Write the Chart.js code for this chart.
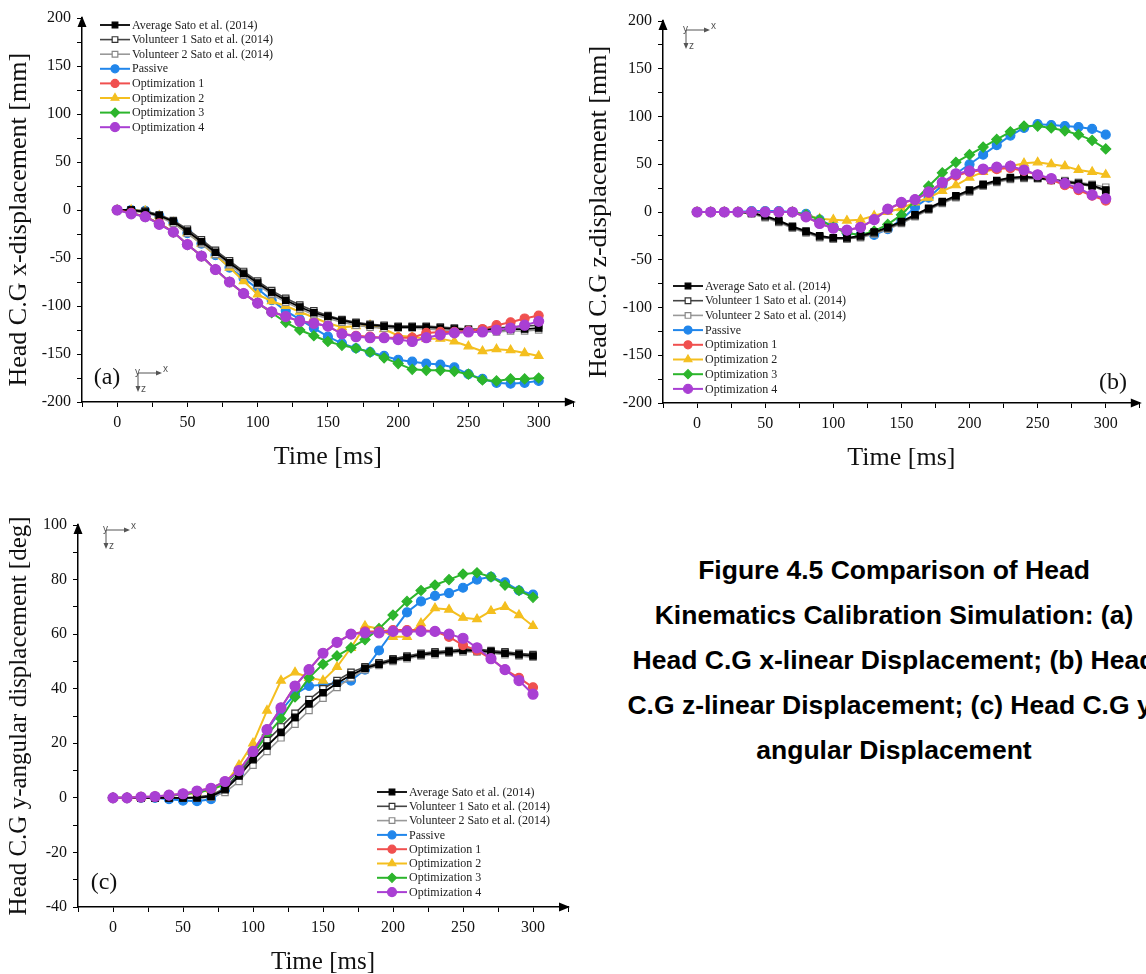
<!DOCTYPE html>
<html>
<head>
<meta charset="utf-8">
<script src="https://cdn.jsdelivr.net/npm/chart.js@4.4.0/dist/chart.umd.min.js"></script>
<style>
    html, body { margin: 0; padding: 0; background: #fff; width: 1146px; height: 974px; overflow: hidden; position: relative; }
    .panel { position: absolute; }
    #caption {
        position: absolute; left: 594px; top: 548px; width: 600px;
        text-align: center; white-space: nowrap; color: #000;
        font: bold 26.5px "Liberation Sans", Arial, sans-serif; line-height: 45px;
    }
</style>
</head>
<body>
<div class="panel" style="left:0;top:0"><canvas id="chartA" width="580" height="480"></canvas></div>
<div class="panel" style="left:580px;top:0"><canvas id="chartB" width="566" height="480"></canvas></div>
<div class="panel" style="left:0;top:500px"><canvas id="chartC" width="580" height="480"></canvas></div>

<div id="caption">
    Figure 4.5 Comparison of Head<br>
    Kinematics Calibration Simulation: (a)<br>
    Head C.G x-linear Displacement; (b) Head<br>
    C.G z-linear Displacement; (c) Head C.G y-<br>
    angular Displacement
</div>

<script>
// time axis (ms)
const time = [0, 10, 20, 30, 40, 50, 60, 70, 80, 90, 100, 110, 120, 130, 140, 150, 160, 170, 180, 190, 200, 210, 220, 230, 240, 250, 260, 270, 280, 290, 300];

const seriesNames = ['Average Sato et al. (2014)', 'Volunteer 1 Sato et al. (2014)', 'Volunteer 2 Sato et al. (2014)', 'Passive', 'Optimization 1', 'Optimization 2', 'Optimization 3', 'Optimization 4'];

// (a) head C.G x-displacement [mm]
const avgA = [0, 0, -2, -6, -12, -22, -33, -44, -55, -66, -76, -86, -94, -101, -107, -111, -115, -118, -120, -121, -122, -122, -122, -123, -124, -125, -125, -125, -124, -124, -123];
const vol1A = [0, 0, -1, -5, -11, -20, -31, -42, -53, -64, -74, -84, -92, -99, -105, -110, -114, -117, -119, -120, -121, -121, -121, -122, -123, -124, -124, -123, -122, -121, -120];
const vol2A = [0, -1, -3, -7, -14, -24, -35, -46, -57, -68, -78, -88, -96, -103, -109, -113, -117, -120, -122, -123, -123, -123, -124, -125, -126, -127, -127, -127, -126, -126, -125];
const passiveA = [0, 0, -1, -6, -13, -24, -35, -47, -60, -71, -82, -94, -105, -114, -123, -132, -139, -144, -148, -152, -156, -158, -160, -161, -164, -171, -176, -180, -181, -180, -178];
const opt1A = [0, -3, -7, -14, -23, -36, -48, -62, -75, -87, -97, -106, -111, -116, -118, -121, -129, -131, -132, -133, -133, -133, -128, -127, -127, -126, -124, -120, -117, -113, -110];
const opt2A = [0, 0, -1, -6, -13, -24, -35, -47, -60, -74, -88, -95, -100, -106, -112, -118, -122, -121, -120, -124, -131, -132, -134, -134, -137, -142, -147, -145, -146, -149, -152];
const opt3A = [0, -3, -7, -14, -23, -36, -48, -62, -75, -87, -97, -107, -117, -125, -131, -137, -141, -144, -148, -154, -160, -166, -167, -167, -168, -171, -177, -178, -176, -176, -175];
const opt4A = [0, -4, -7, -15, -23, -36, -48, -62, -75, -87, -97, -106, -111, -116, -118, -121, -129, -132, -133, -133, -135, -137, -133, -130, -128, -127, -127, -125, -123, -120, -116];

// (b) head C.G z-displacement [mm]
const avgB = [0, 0, 0, 0, -1, -4, -9, -15, -20, -25, -27, -27, -25, -21, -16, -10, -3, 4, 11, 17, 23, 29, 33, 36, 37, 36, 34, 32, 30, 28, 23];
const vol1B = [0, 0, 0, 0, -1, -5, -10, -16, -21, -26, -28, -28, -26, -22, -17, -11, -4, 3, 10, 16, 22, 28, 32, 35, 36, 35, 33, 31, 29, 27, 22];
const vol2B = [0, 0, 0, 0, -2, -6, -11, -17, -22, -27, -28, -28, -27, -23, -18, -12, -5, 2, 9, 15, 21, 27, 31, 34, 35, 35, 34, 33, 31, 29, 26];
const passiveB = [0, 0, 0, 0, 1, 1, 1, 0, -2, -8, -15, -22, -24, -24, -18, -8, 5, 15, 28, 40, 50, 60, 70, 80, 88, 92, 91, 90, 89, 87, 81];
const opt1B = [0, 0, 0, 0, 0, 0, 0, 0, -5, -12, -17, -19, -16, -8, 3, 9, 13, 20, 30, 38, 42, 44, 45, 46, 43, 39, 34, 28, 23, 17, 12];
const opt2B = [0, 0, 0, 0, 0, 0, 0, 0, -3, -7, -8, -9, -8, -4, 0, 4, 10, 15, 22, 28, 36, 42, 45, 48, 51, 52, 50, 48, 44, 42, 39];
const opt3B = [0, 0, 0, 0, 0, 0, 0, 0, -3, -8, -16, -22, -24, -20, -13, -3, 12, 27, 41, 52, 60, 68, 76, 84, 90, 90, 88, 85, 81, 75, 66];
const opt4B = [0, 0, 0, 0, 0, 0, 0, 0, -5, -12, -17, -19, -16, -8, 3, 10, 13, 21, 31, 40, 43, 45, 47, 48, 44, 39, 35, 30, 25, 18, 14];

// (c) head C.G y-angular displacement [deg]
const avgC = [0, 0, 0, 0, 0, 0, 0, 0.5, 3, 8, 14, 19, 24, 29.5, 34.5, 38.5, 42, 45, 47.5, 49, 50.5, 51.5, 52.5, 53, 53.5, 54, 54, 53.5, 53, 52.5, 52];
const vol1C = [0, 0, 0, 0, 0, 0, 0.3, 1, 3.5, 9, 15, 21, 26, 31, 36, 40, 43, 46, 48, 49.5, 51, 52, 53, 53.5, 54, 54.5, 54.5, 54, 53.5, 53, 52.5];
const vol2C = [0, 0, 0, 0, 0, 0, 0, 0.2, 2, 6, 12, 17, 22, 27, 32, 36.5, 40.5, 44, 47, 48.5, 50, 51, 52, 52.5, 53, 53.5, 53.5, 53, 52.5, 52, 51.5];
const passiveC = [0, 0, 0, 0, -0.5, -1, -1.2, -0.5, 3, 9, 16, 25, 32, 38, 41, 41.5, 42, 43, 47, 54, 61, 68, 72, 74, 75, 77, 80, 81, 79, 76, 74.5];
const opt1C = [0, 0, 0.3, 0.5, 1, 1.5, 2.5, 3.5, 6, 10, 17, 25, 33, 41, 47, 53, 57, 60, 61, 61, 61.5, 61.5, 61.5, 61, 59, 56, 54, 51, 47, 44, 40.5];
const opt2C = [0, 0, 0.2, 0.4, 0.8, 1.2, 2, 3, 5, 12, 20, 32, 43, 46, 44, 43, 48, 55, 63, 62, 59, 59, 64, 69.5, 69, 66, 65.5, 68.5, 70, 67, 63];
const opt3C = [0, 0, 0.2, 0.4, 0.8, 1.2, 2, 3, 5, 10, 16, 23, 29, 37, 44, 49, 52, 55, 58, 62, 67, 72, 76, 78, 80, 82, 82.5, 81, 78, 76, 73.5];
const opt4C = [0, 0, 0.3, 0.5, 1, 1.5, 2.5, 3.5, 6, 10, 17, 25, 33, 41, 47, 53, 57, 60, 60.5, 60.5, 61, 61, 61, 61, 60, 58.5, 55, 51, 47, 43, 38];

const serif = '"Liberation Serif", "Times New Roman", serif';

// look of each series, same order as seriesNames
const seriesLook = [
    { line: '#000000', fill: '#000000', edge: '#000000', shape: 'rect', r: 4.5, w: 1.8, z: 2 },
    { line: '#444444', fill: '#ffffff', edge: '#333333', shape: 'rect', r: 4.5, w: 1.6, z: 3 },
    { line: '#999999', fill: '#ffffff', edge: '#888888', shape: 'rect', r: 4.5, w: 1.6, z: 4 },
    { line: '#2186eb', fill: '#2186eb', edge: '#2186eb', shape: 'circle', r: 4.5, w: 2, z: 7 },
    { line: '#f0504f', fill: '#f0504f', edge: '#f0504f', shape: 'circle', r: 4.5, w: 2, z: 1 },
    { line: '#f4bf1f', fill: '#f4bf1f', edge: '#f4bf1f', shape: 'triangle', r: 5, w: 2, z: 6 },
    { line: '#2cb52c', fill: '#2cb52c', edge: '#2cb52c', shape: 'rectRot', r: 5, w: 2, z: 5 },
    { line: '#a93fd3', fill: '#a93fd3', edge: '#a93fd3', shape: 'circle', r: 5, w: 2, z: 0 }
];

function drawAxesIcon(ctx, ox, oy) {
    ctx.save();
    ctx.strokeStyle = '#555';
    ctx.fillStyle = '#555';
    ctx.lineWidth = 1;
    ctx.beginPath();
    ctx.moveTo(ox, oy); ctx.lineTo(ox + 22, oy);
    ctx.moveTo(ox, oy); ctx.lineTo(ox, oy + 17);
    ctx.stroke();
    ctx.beginPath();
    ctx.moveTo(ox + 24, oy); ctx.lineTo(ox + 18, oy - 2.5); ctx.lineTo(ox + 18, oy + 2.5); ctx.closePath();
    ctx.moveTo(ox, oy + 19); ctx.lineTo(ox - 2.5, oy + 13); ctx.lineTo(ox + 2.5, oy + 13); ctx.closePath();
    ctx.fill();
    ctx.font = '10px "Liberation Sans", Arial, sans-serif';
    ctx.textBaseline = 'middle';
    ctx.textAlign = 'left';
    ctx.fillText('x', ox + 25, oy - 4);
    ctx.fillText('z', ox + 3, oy + 16);
    ctx.fillText('y', ox - 3, oy - 1);
    ctx.restore();
}

const decorPlugin = {
    id: 'decor',
    afterDraw(chart, args, opts) {
        const ctx = chart.ctx;
        const area = chart.chartArea;
        ctx.save();

        // arrow heads on both axes
        ctx.fillStyle = '#000';
        ctx.beginPath();
        ctx.moveTo(area.left, area.top - 2);
        ctx.lineTo(area.left - 4.5, area.top + 9);
        ctx.lineTo(area.left + 4.5, area.top + 9);
        ctx.closePath();
        ctx.fill();
        ctx.beginPath();
        ctx.moveTo(area.right + 2, area.bottom);
        ctx.lineTo(area.right - 9, area.bottom - 4.5);
        ctx.lineTo(area.right - 9, area.bottom + 4.5);
        ctx.closePath();
        ctx.fill();

        // panel tag
        ctx.font = '24px ' + serif;
        ctx.textAlign = 'center';
        ctx.textBaseline = 'middle';
        ctx.fillStyle = '#111';
        ctx.fillText(opts.tag, opts.tagX, opts.tagY);

        drawAxesIcon(ctx, opts.iconX, opts.iconY);

        // legend: line segment + marker + text
        ctx.font = '12px ' + serif;
        ctx.textAlign = 'left';
        chart.data.datasets.forEach((ds, i) => {
            const y = opts.legendY + i * opts.legendDy;
            const x = opts.legendX;
            ctx.strokeStyle = ds.borderColor;
            ctx.lineWidth = ds.borderWidth;
            ctx.beginPath();
            ctx.moveTo(x, y);
            ctx.lineTo(x + 30, y);
            ctx.stroke();
            ctx.fillStyle = ds.pointBackgroundColor;
            ctx.strokeStyle = ds.pointBorderColor;
            ctx.lineWidth = 1.2;
            Chart.helpers.drawPoint(ctx, { pointStyle: ds.pointStyle, radius: ds.pointRadius - 0.5, rotation: 0, borderWidth: 1.2 }, x + 15, y);
            ctx.fillStyle = '#222';
            ctx.fillText(seriesNames[i], x + 32, y + 0.5);
        });
        ctx.restore();
    }
};

function makeDatasets(values) {
    return values.map((v, i) => {
        const look = seriesLook[i];
        return {
            label: seriesNames[i],
            data: time.map((t, k) => ({ x: t, y: v[k] })),
            borderColor: look.line,
            borderWidth: look.w,
            pointStyle: look.shape,
            pointRadius: look.r,
            pointBackgroundColor: look.fill,
            pointBorderColor: look.edge,
            pointBorderWidth: 1.2,
            tension: 0,
            order: look.z
        };
    });
}

function makeChart(id, values, o) {
    const tickFont = { family: serif, size: 16 };
    const scales = {
        x: {
            type: 'linear',
            min: -25,
            max: 325,
            afterFit: s => { s.height = o.xHeight; },
            border: { display: true, color: '#000', width: 1.5 },
            grid: { drawOnChartArea: false, color: '#000', tickLength: 5, tickWidth: 1 },
            ticks: {
                stepSize: 25,
                autoSkip: false,
                maxRotation: 0,
                padding: 6,
                color: '#111',
                font: tickFont,
                callback: v => (v >= 0 && v <= 300 && v % 50 === 0) ? v : ''
            },
            title: { display: true, text: 'Time [ms]', color: '#111', font: { family: serif, size: o.titleSize }, padding: { top: 0, bottom: o.xTitlePad } }
        },
        y: {
            type: 'linear',
            min: o.yMin,
            max: o.yMax,
            afterFit: s => { s.width = o.yWidth; },
            border: { display: true, color: '#000', width: 1.5 },
            grid: { drawOnChartArea: false, color: '#000', tickLength: 5, tickWidth: 1 },
            ticks: {
                stepSize: o.yStep,
                autoSkip: false,
                padding: 6,
                color: '#111',
                font: tickFont,
                callback: v => (v % o.yLabelStep === 0) ? v : ''
            },
            title: { display: true, text: o.yTitle, color: '#111', font: { family: serif, size: o.titleSize }, padding: { top: 4, bottom: 0 } }
        }
    };

    new Chart(document.getElementById(id), {
        type: 'line',
        data: { datasets: makeDatasets(values) },
        options: {
            responsive: false,
            animation: false,
            layout: { padding: { top: o.top, right: o.right, left: 0, bottom: 0 } },
            scales: scales,
            plugins: {
                legend: { display: false },
                tooltip: { enabled: false },
                decor: o.decor
            }
        },
        plugins: [decorPlugin]
    });
}

makeChart('chartA', [avgA, vol1A, vol2A, passiveA, opt1A, opt2A, opt3A, opt4A], {
    yMin: -200, yMax: 200, yStep: 25, yLabelStep: 50,
    yTitle: 'Head C.G x-displacement [mm]   ', titleSize: 26,
    top: 18, right: 6, yWidth: 82, xHeight: 78, xTitlePad: 7,
    decor: { tag: '(a)', tagX: 107, tagY: 378, iconX: 138, iconY: 373, legendX: 100, legendY: 25, legendDy: 14.6 }
});

makeChart('chartB', [avgB, vol1B, vol2B, passiveB, opt1B, opt2B, opt3B, opt4B], {
    yMin: -200, yMax: 200, yStep: 25, yLabelStep: 50,
    yTitle: 'Head C.G z-displacement [mm]', titleSize: 26,
    top: 21, right: 3, yWidth: 83, xHeight: 77, xTitlePad: 6,
    decor: { tag: '(b)', tagX: 533, tagY: 383, iconX: 106, iconY: 30, legendX: 93, legendY: 286, legendDy: 14.7 }
});

makeChart('chartC', [avgC, vol1C, vol2C, passiveC, opt1C, opt2C, opt3C, opt4C], {
    yMin: -40, yMax: 100, yStep: 10, yLabelStep: 20,
    yTitle: 'Head C.G y-angular displacement [deg]', titleSize: 25,
    top: 25, right: 12, yWidth: 78, xHeight: 73, xTitlePad: 3,
    decor: { tag: '(c)', tagX: 104, tagY: 383, iconX: 106, iconY: 30, legendX: 377, legendY: 292, legendDy: 14.3 }
});
</script>
</body>
</html>
